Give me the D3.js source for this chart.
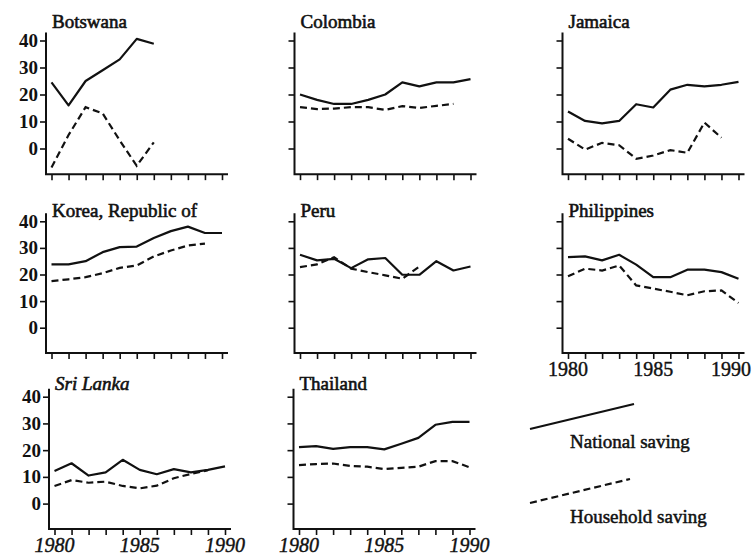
<!DOCTYPE html>
<html><head><meta charset="utf-8">
<script src="https://cdn.jsdelivr.net/npm/d3@7"></script>
<style>body{margin:0;background:#fff} svg{display:block}</style>
</head><body><svg id="c" width="752" height="560"></svg>
<script>
// ---------- data ----------
const years = [1980,1981,1982,1983,1984,1985,1986,1987,1988,1989,1990];
const countries = ["Botswana","Colombia","Jamaica","Korea, Republic of","Peru","Philippines","Sri Lanka","Thailand"];
const nationalSaving = [
  [24.5,16,25,29,33,40.6,38.8,null,null,null,null],
  [20,18,16.5,16.5,18,20,24.5,23,24.5,24.5,25.7],
  [13.7,10.2,9.3,10.2,16.4,15.2,21.8,23.6,23,23.6,24.7],
  [23.8,23.8,25,28.4,30.3,30.5,33.7,36.3,38,35.6,35.6],
  [27.4,25.3,25.9,22.4,25.7,26.2,19.9,19.9,25,21.5,23],
  [26.5,26.8,25.3,27.4,23.7,19,19,21.8,21.8,20.9,18.4],
  [12.2,15.1,10.5,11.7,16.4,12.6,11,12.9,11.7,12.6,13.9],
  [21.1,21.5,20.5,21.1,21.1,20.3,22.4,24.6,29.5,30.6,30.6]
];
const householdSaving = [
  [-7,5,15.3,13,3,-6.4,2.3,null,null,null,null],
  [15.3,14.6,14.8,15.3,15.3,14.3,15.7,15,15.8,16.5,null],
  [3.6,-0.4,2.1,1.2,-3.8,-2.6,-0.6,-1.6,9.6,4,null],
  [17.5,18.2,19,20.5,22.5,23.4,26.8,29,30.9,31.6,null],
  [22.8,23.8,26.5,22.2,20.9,19.7,18.4,23,null,null,null],
  [19.3,22.2,21.5,23.4,15.9,14.7,13.5,12.2,13.7,14,9.3],
  [6.6,8.8,7.8,8.2,6.6,5.7,6.7,9.5,11.1,12.5,null],
  [14.4,14.8,15,14.1,13.8,12.9,13.4,13.8,15.9,15.9,13.6]
];
const yTicks = [0,10,20,30,40];
const xLabelYears = [1980,1985,1990];
const legendLabels = ["National saving","Household saving"];

// ---------- layout ----------
const W = 752;
const svg = d3.select("#c");
const colAx = [46, 294.5, 562.5];
const rowGeo = [
  {y0:148.5, y40:40.5, tb:28},
  {y0:327.7, y40:221.3, tb:217},
  {y0:503.6, y40:396.7, tb:390}
];
const axOffset = [0,0,0,0,0,0,3,-1];
const labelledX = new Set(["Philippines","Sri Lanka","Thailand"]);
const italicX = new Set(["Sri Lanka","Thailand"]);
const serif = "'Liberation Serif','Times New Roman',serif";

countries.forEach((name,i)=>{
  const col = i%3, row = Math.floor(i/3);
  const g = rowGeo[row];
  const ax = colAx[col] + axOffset[i];
  const x = d3.scaleLinear().domain([years[0], years[years.length-1]]).range([ax+5.5, ax+176]);
  const y = d3.scaleLinear().domain([0,40]).range([g.y0, g.y40]);
  const yb = y(-9.5), yt = y(43);
  const p = svg.append("g");

  // axis lines
  p.append("path").attr("d", `M${ax},${yt}V${yb}H${x(1990)+6}`)
    .attr("fill","none").attr("stroke","#111").attr("stroke-width",2);

  // x ticks
  const xa = d3.axisBottom(x).tickValues(years).tickSize(6).tickFormat("");
  const gx = p.append("g").attr("transform",`translate(0,${yb})`).call(xa);
  gx.select(".domain").remove();
  gx.selectAll("line").attr("stroke","#111").attr("stroke-width",1.6);

  // y ticks
  const ya = d3.axisLeft(y).tickValues(yTicks).tickSize(6).tickPadding(2)
    .tickFormat(col===0 ? d3.format("d") : "");
  const gy = p.append("g").attr("transform",`translate(${ax},0)`).call(ya);
  gy.select(".domain").remove();
  gy.selectAll("line").attr("stroke","#111").attr("stroke-width",1.6);
  gy.selectAll("text").attr("font-family",serif).attr("font-size",19)
    .attr("font-weight","bold").attr("fill","#111");

  // x labels
  if (labelledX.has(name)) {
    p.selectAll(".xl").data(xLabelYears).enter().append("text")
      .attr("x", d=>x(d)).attr("y", yb+23).attr("text-anchor","middle")
      .attr("font-family",serif).attr("font-size",20)
      .attr("font-style", italicX.has(name) ? "italic" : "normal")
      .attr("fill","#111").attr("stroke","#111").attr("stroke-width",0.4)
      .text(d=>d)
      .each(function(){
        const b = this.getBBox();
        if (b.x + b.width > W - 1) {
          d3.select(this).attr("x", +d3.select(this).attr("x") - (b.x + b.width - (W - 1)));
        }
      });
  }

  // title
  p.append("text").attr("x", ax+6).attr("y", g.tb)
    .attr("font-family",serif).attr("font-size",19)
    .attr("font-style", name==="Sri Lanka" ? "italic" : "normal")
    .attr("fill","#111").attr("stroke","#111").attr("stroke-width",0.6)
    .text(name);

  const line = d3.line().defined(d=>d[1]!==null).x(d=>x(d[0])).y(d=>y(d[1]));
  p.append("path").datum(years.map((yr,k)=>[yr,nationalSaving[i][k]]))
    .attr("d", line).attr("fill","none").attr("stroke","#111").attr("stroke-width",2.2)
    .attr("stroke-linejoin","round");
  p.append("path").datum(years.map((yr,k)=>[yr,householdSaving[i][k]]))
    .attr("d", line).attr("fill","none").attr("stroke","#111").attr("stroke-width",2.2)
    .attr("stroke-dasharray","7,4");
});

// ---------- legend ----------
const lg = svg.append("g");
lg.append("line").attr("x1",530).attr("y1",429).attr("x2",634).attr("y2",404)
  .attr("stroke","#111").attr("stroke-width",2.2);
lg.append("line").attr("x1",530).attr("y1",503).attr("x2",630).attr("y2",479)
  .attr("stroke","#111").attr("stroke-width",2.2).attr("stroke-dasharray","7,4");
lg.selectAll(".lt").data(legendLabels).enter().append("text")
  .attr("x",570).attr("y",(d,k)=>k===0?448:523)
  .attr("font-family",serif).attr("font-size",19).attr("fill","#111")
  .attr("stroke","#111").attr("stroke-width",0.5)
  .text(d=>d);
</script></body></html>
